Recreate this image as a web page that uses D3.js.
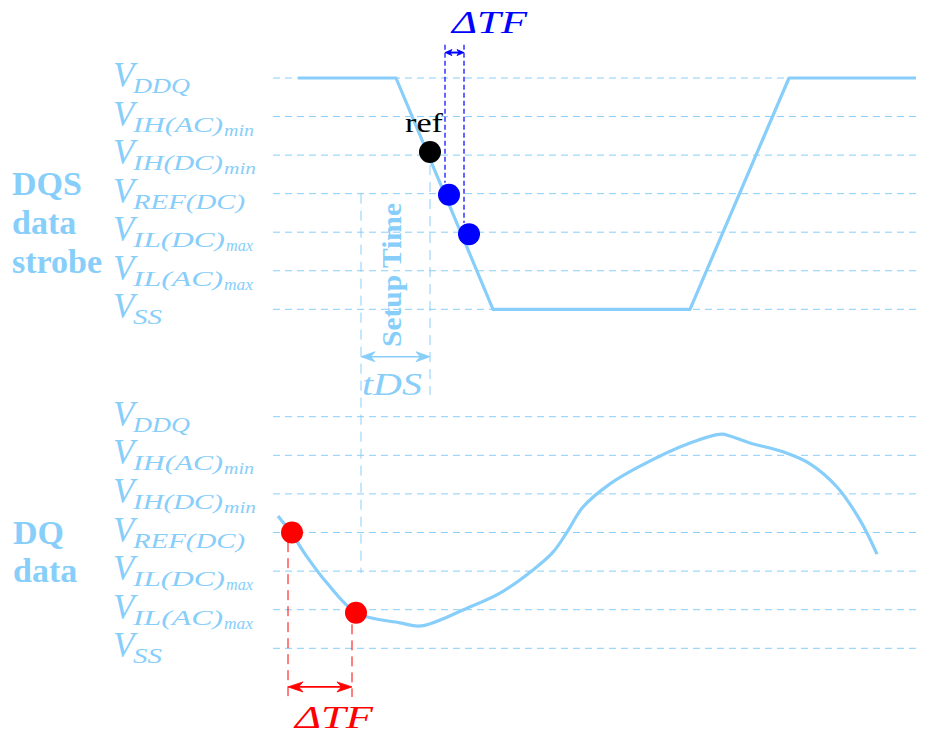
<!DOCTYPE html>
<html><head><meta charset="utf-8">
<script src="https://cdn.jsdelivr.net/npm/d3@7/dist/d3.min.js"></script>
<style>body{margin:0;background:#fff}svg{display:block}</style>
</head><body>
<svg id="c" width="928" height="735"></svg>
<script>
// ---------- data ----------
const levelValues = [6, 5, 4, 3, 2, 1, 0];
const levelSub = ["DDQ", "IH(AC)", "IH(DC)", "REF(DC)", "IL(DC)", "IL(AC)", "SS"];
const levelSubSub = ["", "min", "min", "", "max", "max", ""];

const dqsTime = [298, 396, 493, 690, 789, 916];
const dqsLevel = [6, 6, 0, 0, 6, 6];

const dqTime = [278, 292, 307, 327, 357, 400, 421, 467, 500, 533, 553, 567, 583, 610, 640, 690, 722, 730, 750, 783, 810, 837, 860, 877];
const dqLevel = [3.43, 2.96, 2.37, 1.69, 0.91, 0.66, 0.58, 1.04, 1.43, 2.03, 2.49, 3.01, 3.66, 4.26, 4.72, 5.32, 5.55, 5.50, 5.32, 5.09, 4.78, 4.18, 3.32, 2.44];

const refDotTime = [430], refDotLevel = [4.08];
const blueDotTime = [449, 469], blueDotLevel = [2.97, 1.95];
const redDotTime = [292, 356], redDotLevel = [3.0, 0.92];

const blueTFTime = [445, 464];      // ΔTF on DQS
const redTFTime = [288, 352];       // ΔTF on DQ
const setupTime = [361, 430];       // tDS window

// ---------- layout ----------
const light = "#87cefa", blue = "#0000ff", red = "#ff0000";
const svg = d3.select("#c");
const x = d3.scaleLinear().domain([0, 928]).range([0, 928]);
const yTop = d3.scaleLinear().domain([0, 6]).range([309.3, 78]);
const yBot = d3.scaleLinear().domain([0, 6]).range([648.3, 416.7]);
const gridX = [273, 920];
const subW = [57, 90, 90, 112, 92, 90, 29];
const subSubW = [0, 30, 32, 0, 27, 29, 0];
const serif = "'Liberation Serif','Times New Roman',serif";

function panel(y) {
  const g = svg.append("g");
  g.selectAll("line.grid").data(levelValues).join("line")
    .attr("x1", x(gridX[0])).attr("x2", x(gridX[1]))
    .attr("y1", d => y(d)).attr("y2", d => y(d))
    .attr("stroke", light).attr("stroke-width", 1).attr("stroke-dasharray", "7,5");
  levelValues.forEach((lv, i) => {
    const ly = y(lv);
    g.append("text").attr("x", 113).attr("y", ly + 9)
      .attr("font-family", serif).attr("font-style", "italic").attr("font-size", 35)
      .attr("fill", light).text("V");
    g.append("text").attr("x", 133).attr("y", ly + 15)
      .attr("font-family", serif).attr("font-style", "italic").attr("font-size", 22)
      .attr("fill", light).attr("textLength", subW[i]).attr("lengthAdjust", "spacingAndGlyphs")
      .text(levelSub[i]);
    if (levelSubSub[i]) {
      g.append("text").attr("x", 133 + subW[i] + 1).attr("y", ly + 19)
        .attr("font-family", serif).attr("font-style", "italic").attr("font-size", 17)
        .attr("fill", light).attr("textLength", subSubW[i]).attr("lengthAdjust", "spacingAndGlyphs")
        .text(levelSubSub[i]);
    }
  });
  return g;
}
panel(yTop);
panel(yBot);

// group labels
const bold = (txt, px, py) => svg.append("text").attr("x", px).attr("y", py)
  .attr("font-family", serif).attr("font-weight", "bold").attr("font-size", 34)
  .attr("fill", light).text(txt);
bold("DQS", 12, 195); bold("data", 12, 234); bold("strobe", 12, 273);
bold("DQ", 13, 544); bold("data", 13, 582);

// arrowhead helper
function head(g, px, py, dir, color, len, hw) {
  g.append("path")
    .attr("d", `M${px},${py} L${px - dir * len},${py - hw} L${px - dir * len * 0.7},${py} L${px - dir * len},${py + hw} Z`)
    .attr("fill", color).attr("stroke", color).attr("stroke-width", 0.8).attr("stroke-linejoin", "round");
}
function dblArrow(x1, x2, py, color, len, hw, sw) {
  const g = svg.append("g");
  g.append("line").attr("x1", x1 + len * 0.6).attr("x2", x2 - len * 0.6).attr("y1", py).attr("y2", py)
    .attr("stroke", color).attr("stroke-width", sw);
  head(g, x1, py, -1, color, len, hw);
  head(g, x2, py, 1, color, len, hw);
}

// setup-time annotation (behind the signal)
const vdash = (px, y1, y2, color, dash, sw) => svg.append("line")
  .attr("x1", px).attr("x2", px).attr("y1", y1).attr("y2", y2)
  .attr("stroke", color).attr("stroke-width", sw || 1).attr("stroke-dasharray", dash);
vdash(x(setupTime[0]), yTop(3), yBot(1.95), light, "10,7");
vdash(x(setupTime[1]), yTop(3.74), yTop(-2.22), light, "10,7");
dblArrow(x(setupTime[0]), x(setupTime[1]), yTop(-1.23), light, 14, 5, 1.6);
svg.append("text")
  .attr("transform", `translate(${x(401)},${yTop(0.89)}) rotate(-90)`)
  .attr("text-anchor", "middle").attr("font-family", serif).attr("font-weight", "bold")
  .attr("font-size", 28).attr("fill", light).attr("textLength", 144).attr("lengthAdjust", "spacingAndGlyphs")
  .text("Setup Time");
svg.append("text").attr("x", x(362)).attr("y", yTop(-2.22))
  .attr("font-family", serif).attr("font-style", "italic").attr("font-size", 32)
  .attr("fill", light).attr("textLength", 60).attr("lengthAdjust", "spacingAndGlyphs")
  .text("tDS");

// signals
const line = (ys) => d3.line().x(d => x(d[0])).y(d => ys(d[1]));
svg.append("path").datum(d3.zip(dqsTime, dqsLevel))
  .attr("d", line(yTop)).attr("fill", "none").attr("stroke", light).attr("stroke-width", 3.2)
  .attr("stroke-linejoin", "round");
svg.append("path").datum(d3.zip(dqTime, dqLevel))
  .attr("d", line(yBot).curve(d3.curveCatmullRom.alpha(0.5))).attr("fill", "none").attr("stroke", light)
  .attr("stroke-width", 3.2).attr("stroke-linejoin", "round");

// blue ΔTF
vdash(x(blueTFTime[0]), yTop(6.86), yTop(3.28), blue, "5,3", 1.2);
vdash(x(blueTFTime[1]), yTop(6.86), yTop(2.24), blue, "5,3", 1.2);
dblArrow(x(blueTFTime[0]), x(blueTFTime[1]), yTop(6.66), blue, 7, 3, 2);
svg.append("text").attr("x", x(452)).attr("y", yTop(7.17))
  .attr("font-family", serif).attr("font-style", "italic").attr("font-size", 32)
  .attr("fill", blue).attr("textLength", 75).attr("lengthAdjust", "spacingAndGlyphs")
  .text("ΔTF");

// red ΔTF
vdash(x(redTFTime[0]), yBot(2.75), yBot(-1.26), red, "10,6", 1);
vdash(x(redTFTime[1]), yBot(0.62), yBot(-1.26), red, "10,6", 1);
dblArrow(x(redTFTime[0]), x(redTFTime[1]), yBot(-1.0), red, 15, 5, 1.6);
svg.append("text").attr("x", x(295)).attr("y", yBot(-2.07))
  .attr("font-family", serif).attr("font-style", "italic").attr("font-size", 32)
  .attr("fill", red).attr("textLength", 78).attr("lengthAdjust", "spacingAndGlyphs")
  .text("ΔTF");

// dots
svg.selectAll("circle.ref").data(d3.zip(refDotTime, refDotLevel)).join("circle")
  .attr("cx", d => x(d[0])).attr("cy", d => yTop(d[1])).attr("r", 11).attr("fill", "#000");
svg.selectAll("circle.blue").data(d3.zip(blueDotTime, blueDotLevel)).join("circle")
  .attr("cx", d => x(d[0])).attr("cy", d => yTop(d[1])).attr("r", 11).attr("fill", blue);
svg.selectAll("circle.red").data(d3.zip(redDotTime, redDotLevel)).join("circle")
  .attr("cx", d => x(d[0])).attr("cy", d => yBot(d[1])).attr("r", 11).attr("fill", red);
svg.append("text").attr("x", x(405)).attr("y", yTop(4.59))
  .attr("font-family", serif).attr("font-size", 28).attr("fill", "#000")
  .attr("textLength", 38).attr("lengthAdjust", "spacingAndGlyphs").text("ref");
</script>
</body></html>
